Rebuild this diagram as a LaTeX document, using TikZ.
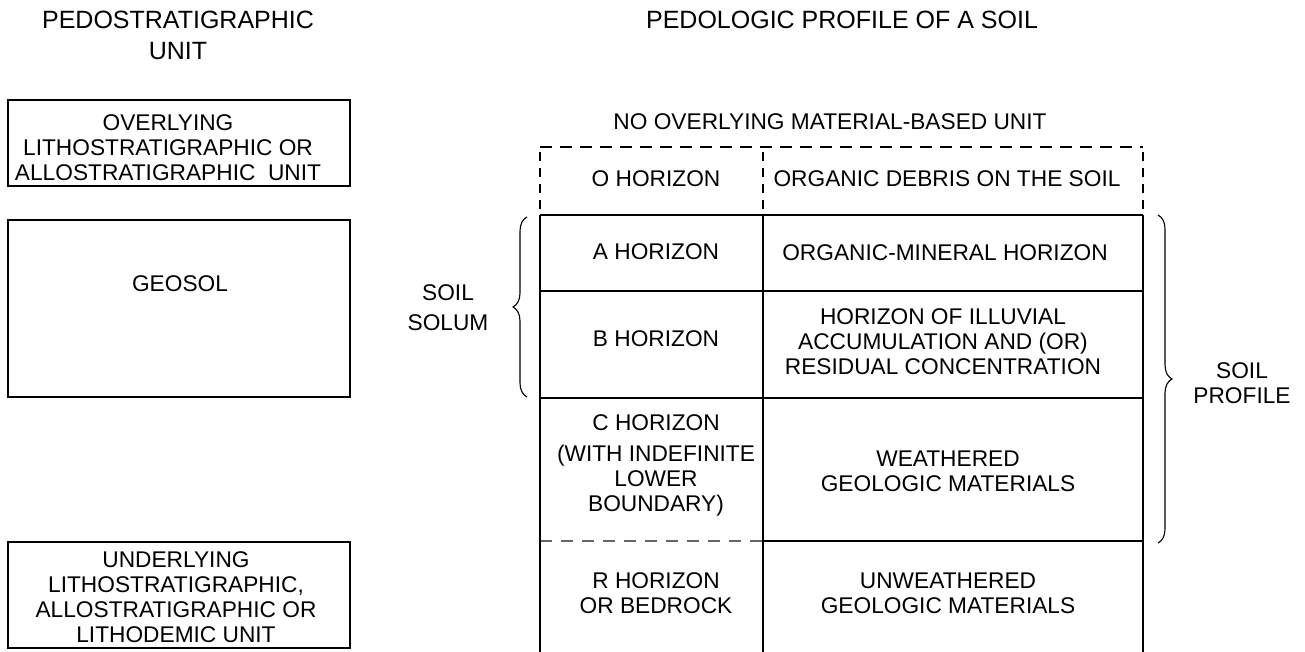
\documentclass[tikz,border=0pt]{standalone}
\usepackage{fontspec}
\setmainfont{Liberation Sans}
\usetikzlibrary{decorations.pathreplacing}
\begin{document}
\begin{tikzpicture}[x=1pt,y=-1pt,
  txt/.style={font=\fontsize{22.7}{25}\selectfont, align=center, inner sep=0pt, anchor=center},
  head/.style={font=\fontsize{25}{31}\selectfont, align=center, inner sep=0pt, anchor=center},
  unitbox/.style={draw, line width=1.1pt},
  rule/.style={line width=1.2pt},
  dashrule/.style={line width=1.2pt, dash pattern=on 12pt off 8pt},
  dashvert/.style={line width=1.1pt, dash pattern=on 9pt off 7pt},
  greydash/.style={line width=1.1pt, black!60, dash pattern=on 12pt off 9pt},
  curly/.style={line width=1.1pt, decorate, decoration={brace, amplitude=14pt}}]
\useasboundingbox (0,0) rectangle (1305,652);

% headers
\node[head] (hL1) at (178,20) {PEDOSTRATIGRAPHIC};
\node[head] (hL2) at (178,51) {UNIT};
\node[head] (hR) at (842,20) {PEDOLOGIC PROFILE OF A SOIL};
\node[txt] (noov) at (830,122) {NO OVERLYING MATERIAL-BASED UNIT};

% left unit boxes
\draw[unitbox] (8,100) rectangle (350,186);
\node[txt] (over) at (168,148) {OVERLYING\\LITHOSTRATIGRAPHIC OR\\ALLOSTRATIGRAPHIC\ \ UNIT};
\draw[unitbox] (8,220) rectangle (350,397);
\node[txt] (geosol) at (180,284) {GEOSOL};
\draw[unitbox] (8,542) rectangle (350,648);
\node[txt] (under) at (176,597) {UNDERLYING\\LITHOSTRATIGRAPHIC,\\ALLOSTRATIGRAPHIC OR\\LITHODEMIC UNIT};

% table
\draw[dashrule] (540,147) -- (1143,147);
\draw[dashvert] (540,152) -- (540,215);
\draw[dashvert] (763,152) -- (763,215);
\draw[dashvert] (1143,152) -- (1143,215);
\draw[rule] (540,215) -- (1143,215);
\draw[rule] (540,291) -- (1143,291);
\draw[rule] (540,398) -- (1143,398);
\draw[greydash] (540,541) -- (763,541);
\draw[rule] (763,541) -- (1143,541);
\draw[rule] (540,215) -- (540,652);
\draw[rule] (763,215) -- (763,652);
\draw[rule] (1143,215) -- (1143,652);

% cell texts
\node[txt] (oh) at (656,179) {O HORIZON};
\node[txt] (od) at (947,179) {ORGANIC DEBRIS ON THE SOIL};
\node[txt] (ah) at (656,252) {A HORIZON};
\node[txt] (ad) at (945,253) {ORGANIC-MINERAL HORIZON};
\node[txt] (bh) at (656,339) {B HORIZON};
\node[txt] (bd) at (943,342) {HORIZON OF ILLUVIAL\\ACCUMULATION AND (OR)\\RESIDUAL CONCENTRATION};
\node[txt] (ch) at (656,423) {C HORIZON};
\node[txt] (cw) at (656,481) {(WITH INDEFINITE\\LOWER\\BOUNDARY)};
\node[txt] (cd) at (948,471) {WEATHERED\\GEOLOGIC MATERIALS};
\node[txt] (rh) at (656,593) {R HORIZON\\OR BEDROCK};
\node[txt] (rd) at (948,593) {UNWEATHERED\\GEOLOGIC MATERIALS};

% braces
\coordinate (sb1) at (527,397);
\coordinate (sb2) at (527,217);
\draw[curly] (sb1) -- (sb2);
\node[txt] (solum) at (448,308) {SOIL\\[5pt]SOLUM};
\coordinate (pb1) at (1158,215);
\coordinate (pb2) at (1158,543);
\draw[curly] (pb1) -- (pb2);
\node[txt] (profile) at (1242,383) {SOIL\\PROFILE};
\end{tikzpicture}
\end{document}
